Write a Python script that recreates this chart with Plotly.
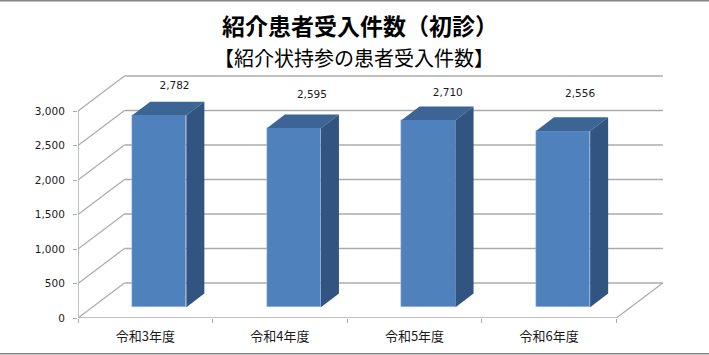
import plotly.graph_objects as go

categories = ["令和3年度", "令和4年度", "令和5年度", "令和6年度"]
values = [2782, 2595, 2710, 2556]
y_ticks = [0, 500, 1000, 1500, 2000, 2500, 3000]
title_main = "紹介患者受入件数（初診）"
title_sub = "【紹介状持参の患者受入件数】"

W, H = 709, 355
X0, X1 = 78, 664      # plot area in px
Y0, YTOP = 318, 70
UNIT = 207 / 3000     # px per value
CAT = 134.6           # px per category
WALL_DX, WALL_DY = 0.345, 35 / UNIT
BAR_X, BAR_W = 0.604, 0.402
BAR_BASE = 10.7 / UNIT
SIDE_DX, SIDE_DY = 18 / CAT, 13.7 / UNIT
LABEL_DX = [0.717, 1.738, 2.747, 3.73]
LABEL_Y = [3362, 3232, 3261, 3246]

FRONT, TOP, SIDE = "#4f81bd", "#3c6595", "#325480"
GRID = "#ababab"
FONT = "DejaVu Sans"
CJK = "Noto Sans CJK JP"

xs = [i + BAR_X for i in range(len(values))]
fig = go.Figure()
fig.add_bar(x=xs, y=values, base=BAR_BASE, width=BAR_W,
            marker=dict(color=FRONT, line=dict(color="#b9cde5", width=0.5)), hoverinfo="skip")
for x, v in zip(xs, values):
    l, r, t = x - BAR_W / 2, x + BAR_W / 2, v + BAR_BASE
    fig.add_scatter(x=[l, r, r + SIDE_DX, l + SIDE_DX, l],
                    y=[t, t, t + SIDE_DY, t + SIDE_DY, t],
                    fill="toself", fillcolor=TOP, mode="lines", line=dict(width=0), hoverinfo="skip")
    fig.add_scatter(x=[r, r + SIDE_DX, r + SIDE_DX, r, r],
                    y=[BAR_BASE, BAR_BASE + SIDE_DY, t + SIDE_DY, t, BAR_BASE],
                    fill="toself", fillcolor=SIDE, mode="lines", line=dict(width=0), hoverinfo="skip")

# axis lines
fig.add_scatter(x=[0, 0], y=[0, y_ticks[-1]], mode="lines", line=dict(color=GRID, width=1.5),
                cliponaxis=False, hoverinfo="skip")
fig.add_scatter(x=[0, len(values)], y=[0, 0], mode="lines", line=dict(color=GRID, width=1.5),
                cliponaxis=False, hoverinfo="skip")
# data labels
fig.add_scatter(x=LABEL_DX, y=LABEL_Y, mode="text", text=[f"{v:,}" for v in values],
                textfont=dict(family=FONT, size=10.5, color="#1a1a1a"), textposition="middle center",
                cliponaxis=False, hoverinfo="skip")

line = dict(color=GRID, width=1.5)
shapes = []
for t in y_ticks:
    shapes.append(dict(type="line", layer="below", xref="x", yref="y", x0=WALL_DX, x1=len(values) + WALL_DX,
                       y0=t + WALL_DY, y1=t + WALL_DY, line=line))
    shapes.append(dict(type="line", layer="below", xref="x", yref="y", x0=0, x1=WALL_DX,
                       y0=t, y1=t + WALL_DY, line=dict(color=GRID, width=1.2)))
shapes.append(dict(type="line", layer="below", xref="x", yref="y", x0=len(values), x1=len(values) + WALL_DX,
                   y0=0, y1=WALL_DY, line=dict(color=GRID, width=1.2)))
shapes.append(dict(type="rect", xref="paper", yref="paper", x0=-0.1, x1=1.1, y0=1.2 / H, y1=1 - 0.8 / H,
                   line=dict(color="#858585", width=1.6), layer="above"))

fig.update_layout(
    width=W, height=H, autosize=False, showlegend=False,
    margin=dict(l=0, r=0, t=0, b=0), paper_bgcolor="white", plot_bgcolor="white",
    bargap=0, shapes=shapes,
    title=dict(text=f"<b>{title_main}</b>", x=360 / W, xanchor="center", y=1 - 27 / H, yanchor="middle",
               font=dict(family=CJK, size=23, color="black")),
    annotations=[dict(text=title_sub, xref="paper", yref="paper", x=354 / W, y=1 - 57 / H, xanchor="center",
                      yanchor="middle", showarrow=False, font=dict(family=CJK, size=20, color="black"))],
    xaxis=dict(domain=[X0 / W, X1 / W], range=[0, (X1 - X0) / CAT], showgrid=False, zeroline=False, showline=False,
               automargin=False,
               tickvals=[i + 0.5 for i in range(len(values))], ticktext=categories, ticks="outside", ticklen=6,
               tickcolor="rgba(0,0,0,0)",
               tickfont=dict(family=CJK, size=13, color="#1a1a1a"),
               minor=dict(tickvals=list(range(len(values) + 1)), ticks="outside", ticklen=4, tickcolor=GRID,
                          tickwidth=1, showgrid=False)),
    yaxis=dict(domain=[1 - Y0 / H, 1 - YTOP / H], range=[0, (Y0 - YTOP) / UNIT], showgrid=False, zeroline=False,
               automargin=False,
               showline=False, tickvals=y_ticks, tickformat=",", ticks="outside", ticklen=4, tickcolor=GRID,
               tickwidth=1, tickfont=dict(family=FONT, size=10.5, color="#1a1a1a"), ticklabelstandoff=6),
)
fig.write_html("out.html", config=dict(displayModeBar=False, responsive=False),
               post_script="document.body.style.margin='0';document.body.style.overflow='hidden';")
